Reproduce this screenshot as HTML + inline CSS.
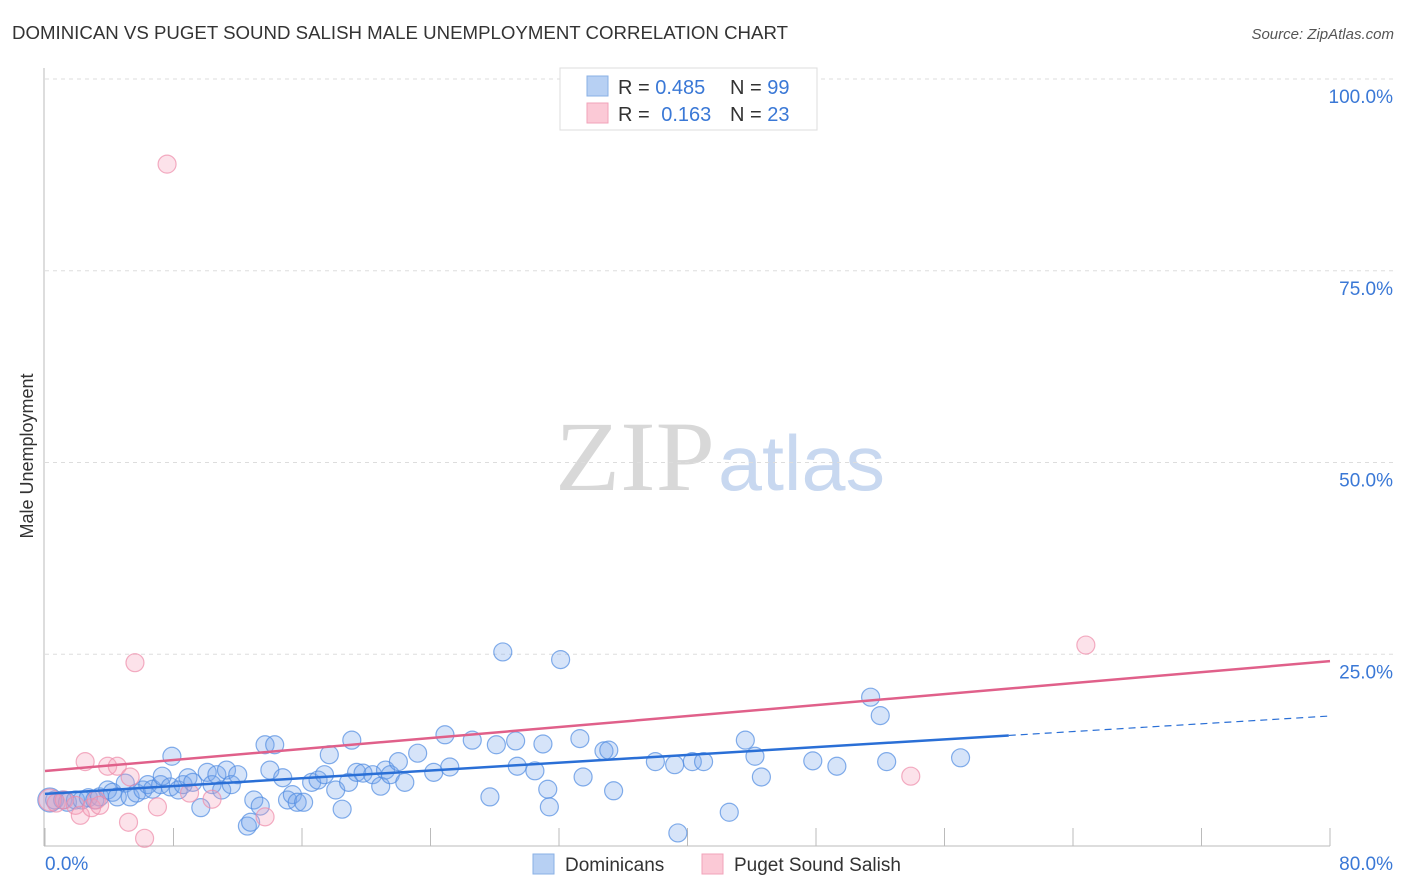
<!DOCTYPE html>
<html><head><meta charset="utf-8"><style>
body{margin:0;background:#fff;font-family:"Liberation Sans",sans-serif;}
svg{display:block}
</style></head><body>
<svg id="chart" width="1406" height="892" xmlns="http://www.w3.org/2000/svg">
<text x="12" y="39" font-size="18" fill="#333" textLength="776" lengthAdjust="spacingAndGlyphs">DOMINICAN VS PUGET SOUND SALISH MALE UNEMPLOYMENT CORRELATION CHART</text>
<text x="1394" y="39" font-size="15" fill="#555" text-anchor="end" font-style="italic">Source: ZipAtlas.com</text>
<text x="555" y="490" font-size="100" fill="#d8d8d8" font-family="Liberation Serif,serif" textLength="160" lengthAdjust="spacingAndGlyphs">ZIP</text>
<text x="718" y="490" font-size="78" fill="#c8d8f0" textLength="167" lengthAdjust="spacingAndGlyphs">atlas</text>
<g id="grid"></g>
<g id="axes"></g>
<g id="marks"></g>
<text transform="translate(33,456) rotate(-90)" font-size="18" fill="#333" text-anchor="middle">Male Unemployment</text>
<g>
<rect x="560" y="68" width="257" height="62" fill="#fff" stroke="#ddd"/>
<rect x="587" y="76" width="21" height="20" fill="#b7d0f3" stroke="#8ab0e6"/>
<rect x="587" y="103" width="21" height="20" fill="#fbc9d6" stroke="#f2a3ba"/>
<text x="618" y="94" font-size="20" fill="#333">R = <tspan fill="#3a78d6">0.485</tspan></text>
<text x="730" y="94" font-size="20" fill="#333">N = <tspan fill="#3a78d6">99</tspan></text>
<text x="618" y="121" font-size="20" fill="#333">R = <tspan fill="#3a78d6" dx="6">0.163</tspan></text>
<text x="730" y="121" font-size="20" fill="#333">N = <tspan fill="#3a78d6">23</tspan></text>
</g>
<g>
<rect x="533" y="854" width="21" height="20" fill="#b7d0f3" stroke="#8ab0e6"/>
<text x="565" y="871" font-size="19" fill="#333">Dominicans</text>
<rect x="702" y="854" width="21" height="20" fill="#fbc9d6" stroke="#f2a3ba"/>
<text x="734" y="871" font-size="19" fill="#333">Puget Sound Salish</text>
</g>
</svg>
<script>
const yTicks=[25,50,75,100];
const yTickLabels=["25.0%","50.0%","75.0%","100.0%"];
const xTicks=[0,8,16,24,32,40,48,56,64,72,80];
const blueX=[0.3,0.6,1.1,1.4,1.9,2.3,2.7,3.1,3.4,3.9,4.2,4.5,5.0,5.3,5.7,6.1,6.4,6.7,7.2,7.3,7.8,7.9,8.3,8.6,8.9,9.2,9.7,10.1,10.4,10.7,11.0,11.3,11.6,12.0,13.0,12.6,12.8,13.4,13.7,14.0,14.3,14.8,15.1,15.4,15.7,16.1,16.6,17.0,17.4,17.7,18.1,18.5,18.9,19.1,19.4,19.8,20.4,20.9,21.2,21.5,22.0,22.4,23.2,24.2,24.9,25.2,26.6,27.7,28.1,28.5,29.3,29.4,30.5,31.0,31.3,31.4,32.1,33.3,33.5,34.8,35.1,35.4,38.0,39.4,39.2,40.3,41.0,42.6,43.6,44.2,44.6,47.8,49.3,51.4,52.0,52.4,57.0];
const blueY=[6.0,6.0,6.0,5.7,6.0,6.0,6.3,6.0,6.4,7.3,7.0,6.4,8.2,6.4,6.9,7.3,8.0,7.4,8.0,9.1,7.7,11.7,7.3,8.0,8.9,8.3,5.0,9.6,8.0,9.3,7.3,9.9,8.0,9.3,6.0,2.6,3.1,5.2,13.2,9.9,13.2,8.9,6.0,6.7,5.7,5.7,8.3,8.6,9.3,11.9,7.3,4.8,8.3,13.8,9.6,9.5,9.3,7.8,9.9,9.3,11.0,8.3,12.1,9.6,14.5,10.3,13.8,6.4,13.2,25.3,13.7,10.4,9.8,13.3,7.4,5.1,24.3,14.0,9.0,12.4,12.5,7.2,11.0,1.7,10.6,11.0,11.0,4.4,13.8,11.7,9.0,11.1,10.4,19.4,17.0,11.0,11.5];
const pinkX=[0.3,0.7,1.2,1.9,2.2,2.5,2.9,3.2,3.4,3.9,4.5,5.2,5.3,5.6,6.2,7.0,7.6,9.0,10.4,13.7,53.9,64.8];
const pinkY=[6.0,5.6,6.0,5.3,4.0,11.0,5.0,6.0,5.3,10.4,10.4,3.1,9.0,23.9,1.0,5.1,88.9,6.9,6.1,3.8,9.1,26.2];
const blueTrend=[6.8,16.95];
const pinkTrend=[9.78,24.1];
const NS="http://www.w3.org/2000/svg";
const X0=45,X1=1330,Y0=846,Y1=79;
const sx=v=>X0+(v/80)*(X1-X0);
const sy=v=>Y0-(v/100)*(Y0-Y1);
function mk(tag,attrs,parent){const e=document.createElementNS(NS,tag);for(const k in attrs)e.setAttribute(k,attrs[k]);document.getElementById(parent).appendChild(e);return e;}
yTicks.forEach((t,i)=>{
 const l=mk('line',{x1:X0,x2:1394,y1:sy(t),y2:sy(t),stroke:'#ddd','stroke-dasharray':'4,4'},'grid');
 
 
 const tx=mk('text',{x:1393,y:sy(t)+24,'font-size':19,fill:'#3a78d6','text-anchor':'end'},'grid');
 tx.textContent=yTickLabels[i];
 
 
});
const ax=mk('line',{x1:44,x2:44,y1:68,y2:846,stroke:'#bbb'},'axes');


const bx=mk('line',{x1:44,x2:1330,y1:846,y2:846,stroke:'#bbb'},'axes');


xTicks.forEach(t=>{
 const l=mk('line',{x1:sx(t),x2:sx(t),y1:828,y2:846,stroke:'#bbb'},'axes');
 
 
});
const xl0=mk('text',{x:45,y:870,'font-size':19,fill:'#3a78d6'},'axes');xl0.textContent='0.0%';


const xl1=mk('text',{x:1393,y:870,'font-size':19,fill:'#3a78d6','text-anchor':'end'},'axes');xl1.textContent='80.0%';


blueX.forEach((x,i)=>{
 const c=mk('circle',{cx:sx(x),cy:sy(blueY[i]),r:i===0?12:9,fill:'rgba(120,165,235,0.3)',stroke:'rgba(80,140,225,0.7)','stroke-width':1.2},'marks');
 
 
});
pinkX.forEach((x,i)=>{
 const c=mk('circle',{cx:sx(x),cy:sy(pinkY[i]),r:i===0?11:9,fill:'rgba(245,160,185,0.3)',stroke:'rgba(238,140,170,0.7)','stroke-width':1.2},'marks');
 
 
});
const bAt=x=>blueTrend[0]+(blueTrend[1]-blueTrend[0])*x/80;
const l1=mk('line',{x1:sx(0),y1:sy(bAt(0)),x2:sx(60),y2:sy(bAt(60)),stroke:'#2a6fd6','stroke-width':2.5},'marks');


const l2=mk('line',{x1:sx(60),y1:sy(bAt(60)),x2:sx(80),y2:sy(bAt(80)),stroke:'#2a6fd6','stroke-width':1.2,'stroke-dasharray':'7,5'},'marks');


const l3=mk('line',{x1:sx(0),y1:sy(pinkTrend[0]),x2:sx(80),y2:sy(pinkTrend[1]),stroke:'#e0608a','stroke-width':2.5},'marks');


</script>
</body></html>
